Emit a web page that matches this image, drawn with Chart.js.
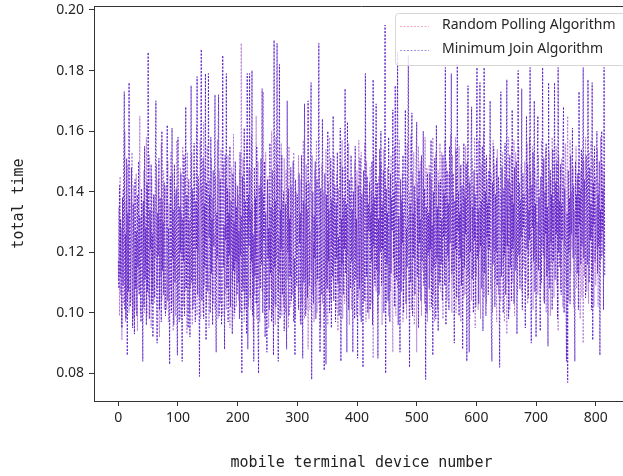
<!DOCTYPE html>
<html>
<head>
<meta charset="utf-8">
<title>total time</title>
<script src="https://cdn.jsdelivr.net/npm/chart.js@4.4.1/dist/chart.umd.min.js"></script>
<style>
	html, body { margin: 0; padding: 0; background: #fff; overflow: hidden; width: 623px; height: 476px; }
	#wrap { position: absolute; left: 0; top: 0; width: 700px; height: 476px; }
</style>
</head>
<body>
<div id="wrap"><canvas id="total-time-chart" width="700" height="476"></canvas></div>
<script>
'use strict';

/*================ Data ================*/

var seriesNames = ['Random Polling Algorithm', 'Minimum Join Algorithm'];
var xTicks = [0, 100, 200, 300, 400, 500, 600, 700, 800];
var yTicks = [0.08, 0.10, 0.12, 0.14, 0.16, 0.18, 0.20];

// Random Polling Algorithm, one value per device (0 .. 815)
var randomPolling = [
	.111,.135,.099,.145,.106,.128,.091,.122,.141,.103,.129,.160,.097,.137,.112,.104,.149,.123,.100,.138,
	.125,.104,.133,.153,.110,.098,.142,.117,.101,.129,.146,.112,.094,.124,.108,.137,.165,.100,.131,.119,
	.136,.109,.127,.147,.100,.132,.116,.158,.099,.141,.123,.105,.152,.113,.130,.095,.145,.108,.134,.118,
	.103,.139,.118,.127,.149,.108,.124,.144,.099,.092,.131,.112,.156,.104,.137,.119,.147,.101,.128,.141,
	.142,.101,.125,.150,.097,.136,.119,.108,.153,.131,.103,.146,.094,.128,.114,.139,.099,.122,.157,.111,
	.104,.140,.126,.111,.148,.098,.133,.119,.155,.102,.129,.145,.107,.121,.137,.093,.153,.116,.130,.100,
	.131,.108,.122,.153,.096,.139,.115,.103,.147,.126,.110,.162,.099,.134,.120,.142,.105,.157,.098,.124,
	.142,.117,.100,.163,.109,.148,.123,.135,.102,.155,.128,.111,.095,.144,.130,.106,.151,.119,.138,.103,
	.109,.126,.101,.145,.131,.112,.157,.098,.121,.147,.136,.103,.154,.127,.114,.099,.149,.141,.120,.106,
	.144,.101,.129,.116,.152,.104,.140,.095,.132,.121,.148,.110,.125,.159,.098,.138,.113,.143,.102,.128,
	.116,.139,.104,.147,.121,.100,.189,.128,.109,.151,.133,.097,.143,.118,.106,.157,.125,.135,.102,.148,
	.130,.147,.101,.159,.113,.136,.094,.124,.106,.141,.119,.165,.098,.134,.150,.111,.127,.097,.145,.118,
	.141,.107,.128,.173,.112,.098,.136,.153,.120,.104,.131,.145,.095,.139,.117,.126,.108,.160,.099,.134,
	.129,.103,.146,.096,.158,.118,.135,.149,.107,.125,.113,.144,.101,.156,.099,.137,.115,.102,.151,.131,
	.100,.147,.123,.111,.139,.095,.155,.117,.133,.102,.142,.128,.106,.121,.153,.135,.109,.098,.140,.119,
	.124,.138,.152,.107,.130,.097,.144,.116,.103,.128,.157,.121,.098,.136,.112,.149,.101,.134,.088,.114,
	.143,.101,.127,.114,.135,.152,.106,.123,.097,.147,.109,.138,.157,.100,.129,.116,.103,.148,.126,.095,
	.131,.149,.103,.121,.140,.118,.099,.135,.154,.110,.127,.096,.143,.107,.158,.119,.104,.138,.122,.147,
	.110,.137,.152,.116,.131,.101,.146,.123,.094,.141,.134,.107,.128,.150,.112,.157,.098,.133,.119,.103,
	.126,.148,.104,.133,.119,.142,.156,.096,.127,.139,.112,.101,.145,.123,.109,.136,.150,.118,.144,.099,
	.147,.121,.105,.157,.118,.099,.135,.153,.110,.128,.141,.103,.126,.156,.116,.097,.150,.124,.139,.107,
	.098,.115,.148,.124,.140,.103,.136,.085,.152,.111,.130,.158,.107,.139,.121,.100,.145,.127,.113,.149,
	.122,.150,.096,.137,.110,.154,.118,.131,.144,.103,.128,.148,.119,.099,.141,.135,.107,.152,.115,.101,
	.087,.134,.112,.155,.121,.099,.143,.130,.108,.149,.116,.157,.127,.102,.139,.113,.146,.097,.133,.118,
	.111,.127,.144,.098,.156,.119,.132,.104,.140,.125,.159,.101,.114,.146,.120,.153,.096,.137,.131,.108,
	.087,.143,.118,.155,.107,.134,.150,.121,.099,.137,.114,.145,.131,.103,.158,.124,.111,.148,.097,.132,
	.120,.149,.101,.137,.113,.144,.124,.158,.106,.131,.097,.142,.153,.116,.134,.101,.147,.122,.109,.156,
	.107,.135,.153,.122,.098,.141,.115,.157,.126,.133,.150,.104,.138,.117,.146,.110,.129,.159,.121,.100,
	.152,.108,.139,.126,.114,.158,.100,.145,.119,.131,.103,.155,.123,.148,.097,.136,.112,.129,.150,.105,
	.141,.106,.155,.119,.133,.150,.112,.128,.145,.098,.137,.117,.104,.151,.126,.142,.113,.158,.095,.130,
	.112,.129,.146,.101,.157,.120,.135,.098,.149,.127,.114,.140,.160,.105,.132,.151,.118,.103,.144,.121,
	.138,.115,.152,.124,.108,.146,.133,.100,.157,.121,.136,.149,.111,.128,.097,.154,.123,.106,.141,.130,
	.119,.104,.139,.126,.153,.116,.131,.097,.145,.122,.150,.093,.135,.110,.158,.127,.101,.143,.120,.155,
	.110,.145,.124,.157,.099,.138,.153,.117,.130,.106,.141,.155,.112,.133,.120,.149,.107,.139,.126,.115,
	.125,.150,.138,.110,.127,.156,.103,.141,.119,.158,.132,.146,.114,.123,.155,.101,.135,.120,.148,.129,
	.144,.117,.130,.106,.152,.126,.141,.133,.108,.157,.122,.137,.149,.104,.131,.118,.154,.100,.143,.121,
	.131,.114,.153,.126,.099,.144,.117,.158,.128,.136,.105,.149,.121,.133,.155,.109,.140,.094,.152,.125,
	.142,.108,.139,.151,.117,.102,.131,.145,.122,.156,.135,.109,.148,.165,.104,.137,.125,.157,.113,.140,
	.121,.137,.148,.102,.134,.126,.119,.155,.108,.144,.131,.150,.112,.138,.098,.147,.124,.105,.152,.090,
	.150,.112,.135,.158,.121,.107,.146,.129,.103,.153,.118,.140,.157,.125,.132,.114,.151,.102,.136,.145,
	.109,.135,.121,.154,.102,.143,.130,.115,.158,.124,.138,.149,.119,.133,.146,.120
];

// Minimum Join Algorithm, one value per device (0 .. 815)
var minimumJoin = [
	.117,.108,.142,.112,.131,.104,.095,.138,.109,.147,.173,.101,.126,.098,.151,.086,.133,.107,.176,.119,
	.102,.131,.148,.113,.095,.136,.121,.093,.144,.108,.127,.099,.139,.115,.150,.106,.132,.118,.097,.141,
	.119,.084,.137,.102,.155,.111,.128,.096,.143,.107,.186,.115,.098,.134,.121,.149,.103,.126,.092,.139,
	.128,.105,.146,.170,.112,.090,.133,.119,.151,.101,.138,.125,.097,.160,.114,.130,.106,.143,.121,.099,
	.116,.139,.162,.104,.128,.113,.083,.145,.122,.100,.161,.118,.134,.096,.149,.110,.127,.141,.106,.086,
	.158,.112,.097,.135,.120,.146,.105,.084,.131,.117,.152,.099,.126,.168,.108,.139,.115,.095,.144,.123,
	.092,.133,.175,.110,.141,.101,.128,.156,.114,.097,.137,.121,.178,.106,.145,.118,.079,.132,.149,.187,
	.104,.129,.151,.098,.136,.115,.179,.091,.143,.120,.107,.179,.125,.139,.100,.158,.113,.131,.096,.147,
	.122,.140,.172,.105,.087,.133,.118,.150,.172,.099,.127,.144,.110,.096,.138,.185,.115,.129,.088,.152,
	.124,.179,.108,.141,.097,.133,.119,.155,.102,.137,.126,.093,.146,.114,.130,.100,.150,.117,.135,.106,
	.142,.110,.127,.098,.153,.119,.132,.080,.145,.107,.124,.161,.101,.137,.115,.093,.179,.088,.139,.122,
	.179,.105,.134,.117,.180,.099,.126,.084,.148,.112,.138,.103,.155,.121,.095,.080,.142,.130,.108,.151,
	.116,.174,.100,.139,.124,.150,.092,.133,.109,.087,.144,.118,.128,.101,.156,.113,.135,.097,.147,.122,
	.086,.190,.115,.137,.102,.129,.189,.110,.084,.143,.182,.098,.134,.121,.152,.106,.127,.140,.094,.118,
	.136,.107,.088,.170,.120,.141,.099,.131,.112,.148,.104,.125,.137,.150,.097,.118,.086,.144,.126,.109,
	.139,.115,.101,.146,.123,.133,.096,.152,.118,.085,.137,.110,.169,.127,.099,.143,.120,.105,.170,.129,
	.109,.134,.147,.176,.078,.125,.140,.103,.132,.118,.150,.098,.127,.144,.111,.136,.189,.121,.087,.141,
	.120,.106,.164,.130,.113,.081,.146,.125,.083,.139,.108,.160,.117,.134,.100,.128,.151,.095,.137,.112,
	.165,.104,.129,.142,.097,.136,.118,.153,.110,.125,.099,.145,.161,.084,.131,.116,.148,.106,.138,.121,
	.174,.113,.136,.087,.163,.120,.101,.144,.129,.108,.152,.117,.134,.087,.140,.124,.098,.155,.111,.131,
	.119,.085,.142,.126,.108,.151,.133,.097,.139,.115,.082,.147,.123,.104,.179,.130,.112,.145,.100,.136,
	.127,.143,.101,.133,.117,.150,.096,.177,.122,.138,.109,.128,.169,.114,.143,.085,.131,.106,.154,.120,
	.160,.109,.135,.121,.147,.100,.129,.195,.080,.141,.116,.133,.104,.158,.124,.097,.146,.113,.138,.127,
	.167,.118,.140,.102,.175,.126,.111,.148,.186,.096,.132,.120,.087,.144,.107,.137,.123,.152,.100,.129,
	.139,.167,.103,.128,.115,.147,.185,.121,.082,.136,.110,.151,.166,.099,.133,.118,.142,.106,.125,.149,
	.163,.112,.138,.095,.147,.123,.131,.104,.152,.117,.128,.160,.109,.141,.126,.078,.135,.100,.146,.119,
	.133,.108,.146,.121,.157,.102,.129,.086,.140,.115,.151,.124,.098,.162,.118,.135,.094,.143,.127,.110,
	.144,.116,.131,.104,.152,.125,.139,.109,.181,.096,.128,.147,.119,.136,.101,.155,.123,.140,.179,.113,
	.129,.146,.112,.090,.137,.121,.154,.105,.182,.127,.140,.099,.133,.118,.149,.109,.142,.088,.124,.156,
	.115,.138,.126,.149,.084,.132,.175,.107,.087,.143,.120,.153,.168,.111,.135,.100,.147,.124,.139,.102,
	.150,.181,.118,.134,.103,.145,.176,.122,.137,.108,.155,.094,.129,.181,.113,.140,.099,.152,.125,.136,
	.106,.147,.121,.170,.131,.097,.084,.143,.116,.155,.127,.102,.139,.120,.151,.109,.134,.145,.118,.082,
	.137,.173,.112,.148,.125,.100,.141,.119,.156,.106,.133,.177,.122,.144,.098,.130,.152,.115,.139,.104,
	.167,.121,.136,.103,.148,.127,.114,.150,.093,.132,.180,.119,.143,.108,.137,.125,.174,.101,.146,.128,
	.139,.116,.095,.131,.165,.121,.149,.105,.134,.124,.181,.112,.090,.142,.128,.153,.117,.170,.107,.136,
	.092,.127,.149,.165,.114,.138,.121,.094,.145,.110,.133,.181,.119,.151,.103,.140,.126,.156,.112,.135,
	.089,.176,.130,.108,.147,.123,.139,.101,.154,.117,.134,.176,.111,.143,.126,.150,.098,.181,.120,.137,
	.115,.149,.106,.136,.124,.155,.168,.100,.141,.128,.112,.084,.133,.077,.147,.120,.138,.103,.152,.126,
	.135,.161,.118,.142,.107,.084,.150,.125,.139,.113,.146,.101,.173,.129,.141,.116,.154,.122,.133,.181,
	.118,.144,.127,.105,.152,.133,.116,.177,.139,.110,.148,.124,.136,.101,.176,.091,.143,.129,.155,.117,
	.128,.146,.160,.113,.139,.122,.150,.086,.134,.118,.160,.127,.141,.101,.181,.112
];

var seriesColors = ['rgba(178, 122, 214, 0.9)', 'rgba(82, 22, 198, 0.85)'];
var legendColors = ['rgba(240, 150, 180, 0.8)', 'rgba(150, 130, 225, 0.85)'];

/*================ Helpers ================*/

function toPoints(values) {
	return values.map(function(v, i) {
		return { x: i, y: v };
	});
}

var tickFont = { family: '"Noto Sans", "Open Sans", sans-serif', size: 14 };
var titleFont = { family: '"DejaVu Sans Mono", monospace', size: 15 };

// Top spine plus the upper right legend (matplotlib look).
var frameLegendPlugin = {
	id: 'frameLegend',
	afterDraw: function(chart) {
		var ctx = chart.ctx;
		var area = chart.chartArea;
		ctx.save();
		ctx.strokeStyle = '#333';
		ctx.lineWidth = 1;
		ctx.beginPath();
		ctx.moveTo(area.left, area.top + 0.5);
		ctx.lineTo(area.right, area.top + 0.5);
		ctx.moveTo(area.right - 0.5, area.top);
		ctx.lineTo(area.right - 0.5, area.bottom);
		ctx.stroke();

		// legend box, runs past the right edge of the window like the original
		var bx = 395.5, by = 13.5, bw = 240, bh = 52, r = 3;
		ctx.beginPath();
		ctx.moveTo(bx + r, by);
		ctx.lineTo(bx + bw, by);
		ctx.lineTo(bx + bw, by + bh);
		ctx.lineTo(bx + r, by + bh);
		ctx.arcTo(bx, by + bh, bx, by + bh - r, r);
		ctx.lineTo(bx, by + r);
		ctx.arcTo(bx, by, bx + r, by, r);
		ctx.closePath();
		ctx.fillStyle = 'rgba(255, 255, 255, 0.82)';
		ctx.fill();
		ctx.strokeStyle = '#d6d6d6';
		ctx.stroke();

		var rows = [26, 50];
		ctx.font = '14px "Noto Sans", "Open Sans", sans-serif';
		ctx.textBaseline = 'middle';
		ctx.textAlign = 'left';
		for (var i = 0; i < seriesNames.length; i++) {
			ctx.strokeStyle = legendColors[i];
			ctx.lineWidth = 1;
			ctx.setLineDash([2, 1.5]);
			ctx.beginPath();
			ctx.moveTo(400, rows[i] + 0.5);
			ctx.lineTo(429, rows[i] + 0.5);
			ctx.stroke();
			ctx.setLineDash([]);
			ctx.fillStyle = '#262626';
			ctx.fillText(seriesNames[i], 442, rows[i] - 1);
		}
		ctx.restore();
	}
};

/*================ Chart ================*/

var ctx = document.getElementById('total-time-chart');

new Chart(ctx, {
	type: 'line',
	data: {
		datasets: [ {
			label: seriesNames[0],
			data: toPoints(randomPolling),
			borderColor: seriesColors[0],
			borderWidth: 1,
			borderDash: [2, 1.5],
			pointRadius: 0,
			tension: 0,
			fill: false,
			order: 1
		}, {
			label: seriesNames[1],
			data: toPoints(minimumJoin),
			borderColor: seriesColors[1],
			borderWidth: 1,
			borderDash: [2, 1.5],
			pointRadius: 0,
			tension: 0,
			fill: false,
			order: 0
		} ]
	},
	options: {
		responsive: false,
		animation: false,
		devicePixelRatio: 1,
		layout: {
			padding: { top: 6, right: 71, left: 0, bottom: 0 }
		},
		scales: {
			x: {
				type: 'linear',
				min: -40.75,
				max: 855.75,
				afterBuildTicks: function(scale) {
					scale.ticks = xTicks.map(function(v) { return { value: v }; });
				},
				afterFit: function(scale) {
					scale.height = 75;
					scale.paddingLeft = 0;
					scale.paddingRight = 0;
				},
				grid: {
					display: true,
					drawOnChartArea: false,
					drawTicks: true,
					tickLength: 5,
					tickColor: '#333'
				},
				border: { display: true, color: '#333', width: 1 },
				ticks: {
					color: '#262626',
					font: tickFont,
					padding: 4,
					maxRotation: 0,
					autoSkip: false,
					callback: function(v) { return String(v); }
				},
				title: {
					display: true,
					text: 'mobile terminal device number',
					color: '#222',
					font: titleFont,
					padding: { top: 0, bottom: 4 }
				}
			},
			y: {
				min: 0.0709,
				max: 0.2013,
				afterBuildTicks: function(scale) {
					scale.ticks = yTicks.map(function(v) { return { value: v }; });
				},
				afterFit: function(scale) {
					scale.width = 94;
					scale.paddingTop = 0;
					scale.paddingBottom = 0;
				},
				grid: {
					display: true,
					drawOnChartArea: false,
					drawTicks: true,
					tickLength: 5,
					tickColor: '#333'
				},
				border: { display: true, color: '#333', width: 1 },
				ticks: {
					color: '#262626',
					font: tickFont,
					padding: 5,
					callback: function(v) { return v.toFixed(2); }
				},
				title: {
					display: true,
					text: 'total time',
					color: '#222',
					font: titleFont,
					padding: { top: 10, bottom: 0 }
				}
			}
		},
		plugins: {
			legend: { display: false },
			tooltip: { enabled: false }
		}
	},
	plugins: [ frameLegendPlugin ]
});
</script>
</body>
</html>
